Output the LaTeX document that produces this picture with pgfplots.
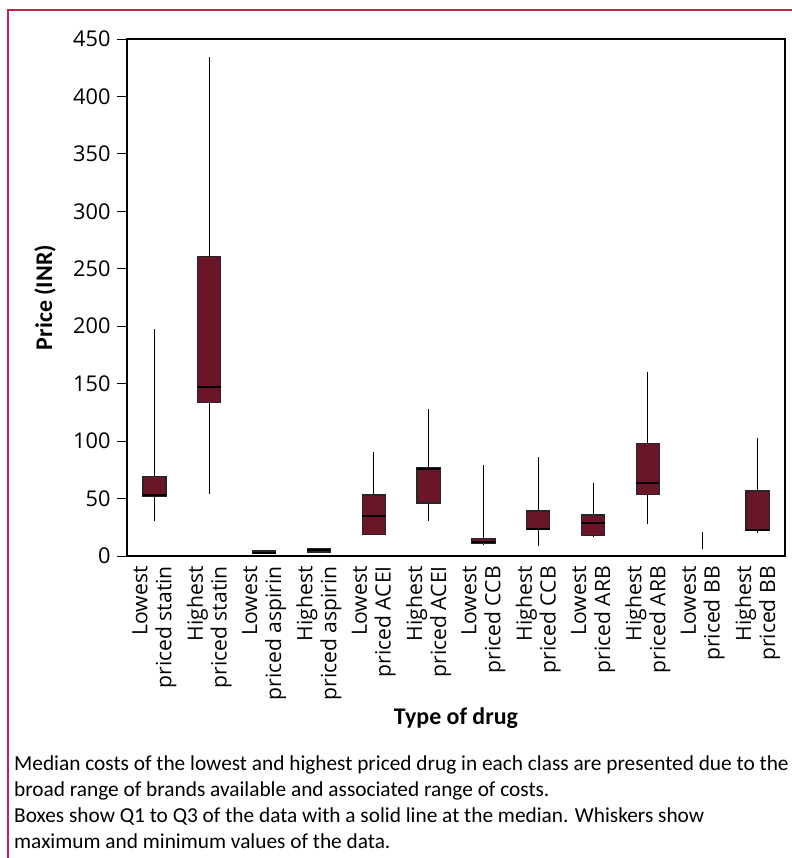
\documentclass[border=0pt]{standalone}
\usepackage{pgfplots}
\pgfplotsset{compat=1.18}
\usepackage{fontspec}
\setmainfont{Carlito}
\newfontfamily\tickfont{Open Sans}
\definecolor{boxfill}{HTML}{6B1529}
\definecolor{frame}{HTML}{C0284A}
\begin{document}
\begin{tikzpicture}
\useasboundingbox (0,0) rectangle (792bp,-858bp);
\draw[frame, line width=1.4bp] (8bp,-858bp) -- (8bp,-10bp) -- (792bp,-10bp);
\begin{axis}[
  at={(127bp,-556bp)}, anchor=south west,
  scale only axis, width=658bp, height=517bp,
  xmin=-0.5, xmax=11.5, ymin=0, ymax=450,
  ytick={0,50,...,450},
  xtick={0,...,11},
  xticklabels={{Lowest\\priced statin},{Highest\\priced statin},{Lowest\\priced aspirin},{Highest\\priced aspirin},{Lowest\\priced ACEI},{Highest\\priced ACEI},{Lowest\\priced CCB},{Highest\\priced CCB},{Lowest\\priced ARB},{Highest\\priced ARB},{Lowest\\priced BB},{Highest\\priced BB}},
  x tick label style={rotate=90, anchor=east, align=right, font=\tickfont\fontsize{21.2}{24}\selectfont, inner sep=0pt},
  xticklabel shift=0bp,
  y tick label style={font=\tickfont\fontsize{21.8}{24}\selectfont},
  /pgf/number format/assume math mode=true,
  yticklabel shift=3bp,
  tick align=outside, ytick pos=left,
  major tick length=10bp,
  xtick style={draw=none},
  ytick style={black, line width=0.9bp},
  axis line style={black, line width=1.1bp},
  xlabel={\bfseries Type of drug},
  ylabel={\bfseries Price (INR)},
  xlabel style={font=\fontsize{24}{28}\selectfont, at={(axis description cs:0.5,-0.3133)}, anchor=center},
  ylabel style={font=\fontsize{24}{28}\selectfont, at={(axis description cs:-0.1246,0.5)}, anchor=center},
  clip=false,
  whisk/.style={black, line width=0.9bp},
  bx/.style={fill=boxfill, draw=black!85, line width=1.2bp},
  med/.style={black, line width=2bp},
]
% whiskers (min to max)
\addplot[whisk] coordinates {(0,30.7) (0,198)};
\addplot[whisk] coordinates {(1,53.7) (1,434.6)};
\addplot[whisk] coordinates {(2,1.5) (2,5.2)};
\addplot[whisk] coordinates {(3,2.3) (3,7.2)};
\addplot[whisk] coordinates {(4,18) (4,90.8)};
\addplot[whisk] coordinates {(5,30.7) (5,127.9)};
\addplot[whisk] coordinates {(6,9.3) (6,79.2)};
\addplot[whisk] coordinates {(7,8.7) (7,85.9)};
\addplot[whisk] coordinates {(8,16.2) (8,63.2)};
\addplot[whisk] coordinates {(9,27.8) (9,160.4)};
\addplot[whisk] coordinates {(10,5.8) (10,21.2)};
\addplot[whisk] coordinates {(11,19.7) (11,102.4)};
% boxes (Q1 to Q3)
\addplot[bx] coordinates {(-0.21,51.6) (0.21,51.6) (0.21,69) (-0.21,69)} -- cycle;
\addplot[bx] coordinates {(0.79,133.4) (1.21,133.4) (1.21,260.5) (0.79,260.5)} -- cycle;
\addplot[bx] coordinates {(1.79,2) (2.21,2) (2.21,4.3) (1.79,4.3)} -- cycle;
\addplot[bx] coordinates {(2.79,3.5) (3.21,3.5) (3.21,6.7) (2.79,6.7)} -- cycle;
\addplot[bx] coordinates {(3.79,18.9) (4.21,18.9) (4.21,53.1) (3.79,53.1)} -- cycle;
\addplot[bx] coordinates {(4.79,46.1) (5.21,46.1) (5.21,77.2) (4.79,77.2)} -- cycle;
\addplot[bx] coordinates {(5.79,11) (6.21,11) (6.21,15.4) (5.79,15.4)} -- cycle;
\addplot[bx] coordinates {(6.79,22.9) (7.21,22.9) (7.21,39.2) (6.79,39.2)} -- cycle;
\addplot[bx] coordinates {(7.79,17.7) (8.21,17.7) (8.21,35.7) (7.79,35.7)} -- cycle;
\addplot[bx] coordinates {(8.79,53.7) (9.21,53.7) (9.21,97.8) (8.79,97.8)} -- cycle;
\addplot[bx] coordinates {(10.79,22) (11.21,22) (11.21,56.6) (10.79,56.6)} -- cycle;
% medians
\addplot[med] coordinates {(-0.21,53.4) (0.21,53.4)};
\addplot[med] coordinates {(0.79,146.8) (1.21,146.8)};
\addplot[med] coordinates {(1.79,3) (2.21,3)};
\addplot[med] coordinates {(2.79,5) (3.21,5)};
\addplot[med] coordinates {(3.79,34.5) (4.21,34.5)};
\addplot[med] coordinates {(4.79,75.4) (5.21,75.4)};
\addplot[med] coordinates {(5.79,12.5) (6.21,12.5)};
\addplot[med] coordinates {(6.79,23.8) (7.21,23.8)};
\addplot[med] coordinates {(7.79,29.1) (8.21,29.1)};
\addplot[med] coordinates {(8.79,63.8) (9.21,63.8)};
\addplot[med] coordinates {(10.79,23) (11.21,23)};
\end{axis}
\begin{scope}[every node/.style={anchor=base west, inner sep=0pt, font=\fontsize{21.4}{24}\selectfont}]
\node at (14bp,-770bp) {Median costs of the lowest and highest priced drug in each class are presented due to the};
\node at (14bp,-796bp) {broad range of brands available and associated range of costs.};
\node at (14bp,-822bp) {Boxes show Q1 to Q3 of the data with a solid line at the median. Whiskers show};
\node at (14bp,-848bp) {maximum and minimum values of the data.};
\end{scope}
\end{tikzpicture}
\end{document}
